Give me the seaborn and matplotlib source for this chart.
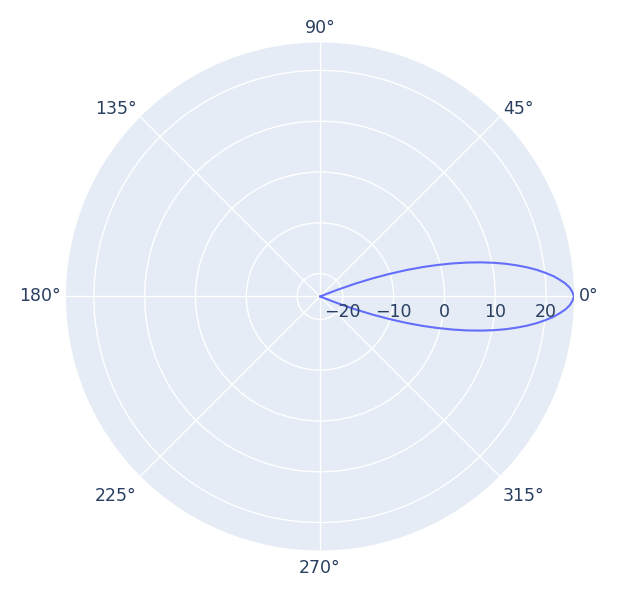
import numpy as np
import matplotlib
matplotlib.use('Agg')
import matplotlib.pyplot as plt
import seaborn as sns

# lobe: angle (deg) -> radial value
theta_deg = [-22, -21, -20, -19, -18, -17, -16, -15, -14, -13, -12, -11, -10, -9, -8, -7,
             -6, -5, -4, -3, -2, -1, 0, 1, 2, 3, 4, 5, 6, 7, 8, 9, 10, 11, 12, 13, 14,
             15, 16, 17, 18, 19, 20, 21, 22]
r_half = [25.5, 25.2, 24.7, 23.9, 22.8, 21.6, 20.1, 18.5, 16.7, 14.7, 12.6, 10.3,
          7.8, 5.2, 2.4, -0.5, -3.5, -6.7, -10.1, -13.5, -17.1, -20.9, -24.5]
r_values = r_half[:0:-1] + r_half

radial_ticks = [-20, -10, 0, 10, 20]
angle_ticks = [0, 45, 90, 135, 180, 225, 270, 315]
r_min, r_max = -24.5, 25.5

sns.set_theme(style='white')
plt.rcParams['font.family'] = ['DejaVu Sans']
text_color = '#2a3f5f'

fig = plt.figure(figsize=(6.4, 5.95), dpi=100)
ax = fig.add_axes([0.1031, 0.0748, 0.79375, 0.8538], projection='polar')
ax.set_facecolor('#E5ECF6')

df_theta = np.deg2rad(theta_deg)
sns.lineplot(x=df_theta, y=r_values, ax=ax, sort=False, estimator=None,
             color='#636efa', linewidth=1.5)

ax.set_ylim(r_min, r_max)
ax.set_yticks(radial_ticks)
ax.set_yticklabels([])
ax.set_xticks(np.deg2rad(angle_ticks))
ax.set_xticklabels([])
ax.grid(True, color='white', linewidth=1)
ax.spines['polar'].set_visible(False)
ax.set_xlabel('')
ax.set_ylabel('')
ax.tick_params(length=0)

# angular labels just outside the disc
pad = 5
for a in angle_ticks:
    c, s = np.cos(np.deg2rad(a)), np.sin(np.deg2rad(a))
    ha = 'left' if c > 0.1 else ('right' if c < -0.1 else 'center')
    va = 'bottom' if s > 0.1 else ('top' if s < -0.1 else 'center')
    dy = 0
    if 0.1 < s < 0.9:
        dy = -5
    elif -0.9 < s < -0.1:
        dy = -7
    elif s <= -0.9:
        dy = -4
    ax.annotate(f'{a}°', xy=(np.deg2rad(a), r_max), xytext=(c * pad, s * pad + dy),
                textcoords='offset pixels', ha=ha, va=va, fontsize=12.5,
                color=text_color, annotation_clip=False)

# radial tick labels under the 0° line
for v in radial_ticks:
    label = f'{v}'.replace('-', '\u2212')
    ax.annotate(label, xy=(0, v), xytext=(0, -16), textcoords='offset pixels',
                ha='center', va='center', fontsize=12.5, color=text_color)

fig.savefig('out.png', dpi=100, facecolor='white')
